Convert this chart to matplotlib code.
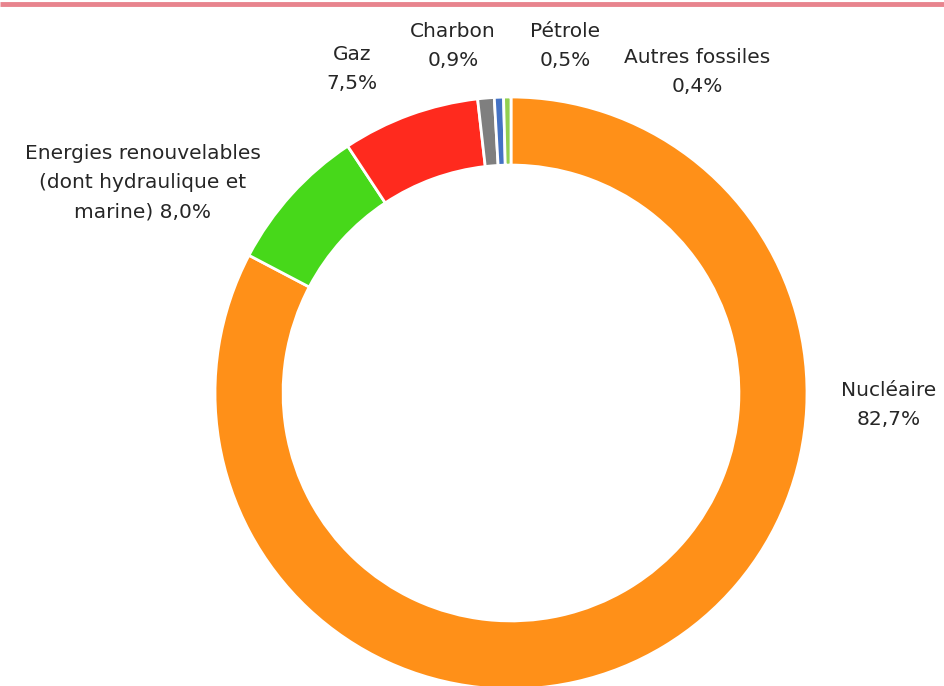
import matplotlib
matplotlib.use("Agg")
import matplotlib.pyplot as plt

# Mix de production électrique (parts en %)
sources = ["Nucléaire", "Energies renouvelables\n(dont hydraulique et\nmarine)", "Gaz",
           "Charbon", "Pétrole", "Autres fossiles"]
parts = [82.7, 8.0, 7.5, 0.9, 0.5, 0.4]
couleurs = ["#FF9018", "#47D81A", "#FF2A1E", "#7F7F7F", "#4472C4", "#92D050"]

# Position des étiquettes (pixels depuis le haut)
label_xy = [(889, 405), (143, 183), (352, 69), (453, 46), (565, 46), (697, 72)]

plt.rcParams['font.family'] = ['DejaVu Sans']

W, H = 945, 686
fig = plt.figure(figsize=(W / 100, H / 100), dpi=100)
ax = fig.add_axes([0, 0, 1, 1])

# Trait rose en haut
ax.plot([0, W], [H - 4, H - 4], color="#E8848E", lw=3.5, solid_capstyle='butt')

cx, cy, r = 511, H - 393, 296
ax.pie(parts, colors=couleurs, startangle=90, counterclock=False,
       center=(cx, cy), radius=r, frame=True,
       wedgeprops=dict(width=r * 0.23, edgecolor='white', linewidth=2))
ax.set_xlim(0, W)
ax.set_ylim(0, H)
ax.set_aspect('equal')
ax.axis('off')

for nom, val, (x, y) in zip(sources, parts, label_xy):
    pct = f"{val:.1f}".replace(".", ",") + "%"
    if nom.startswith("Energies"):
        txt = f"{nom} {pct}"
    else:
        txt = f"{nom}\n{pct}"
    ax.text(x, H - y, txt, ha='center', va='center', fontsize=14.5,
            color="#262626", linespacing=1.7)

fig.savefig("out.png", dpi=100, facecolor='white')
